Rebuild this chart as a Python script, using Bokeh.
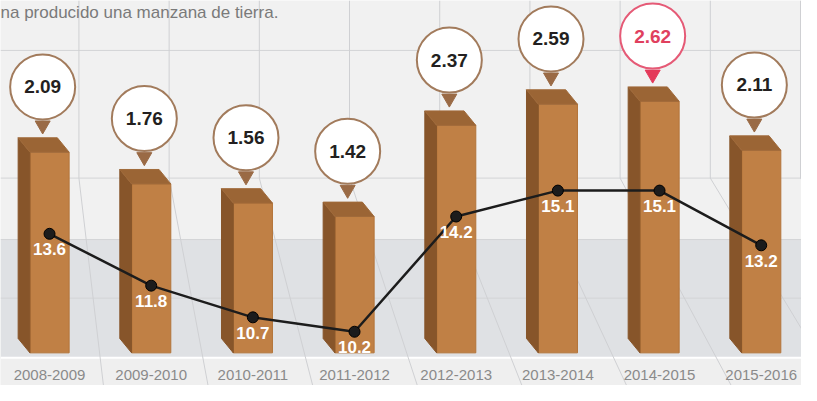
from bokeh.plotting import figure
from bokeh.models import Range1d, BoxAnnotation
from bokeh.core.properties import value
from bokeh.embed import file_html
from bokeh.resources import INLINE

# ---------------- data ----------------
categories = ["2008-2009", "2009-2010", "2010-2011", "2011-2012",
              "2012-2013", "2013-2014", "2014-2015", "2015-2016"]
bar_values = [2.09, 1.76, 1.56, 1.42, 2.37, 2.59, 2.62, 2.11]
line_values = [13.6, 11.8, 10.7, 10.2, 14.2, 15.1, 15.1, 13.2]
subtitle = "na producido una manzana de tierra."

# ---------------- geometry / style ----------------
W, H = 801, 385
SX, SY = W / 817.0, H / 401.0   # reference -> frame pixel scale
X_UNIT = 103.7 * SX             # px per category
X0 = 50.0 * SX                  # frame px of first category centre
Y_UNIT = 100.0 * SY             # px per bar unit
Y0 = 367.0 * SY                 # frame px of bar zero
L_UNIT = 30.0 * SY              # px per line unit
L_REF, L_REF_PX = 13.6, 243.0 * SY

x_start = -X0 / X_UNIT
x_end = x_start + W / X_UNIT
y_end = Y0 / Y_UNIT
y_start = y_end - H / Y_UNIT
l_end = L_REF + L_REF_PX / L_UNIT
l_start = l_end - H / L_UNIT


def fx(ref_px):
    return x_start + ref_px * SX / X_UNIT


def fy(ref_py):
    return y_end - ref_py * SY / Y_UNIT


def dx(ref_px):
    return ref_px * SX / X_UNIT


def dy(ref_px):
    return ref_px * SY / Y_UNIT


p = figure(width=W, height=H, x_range=Range1d(x_start, x_end),
           y_range=Range1d(y_start, y_end), output_backend="svg",
           toolbar_location=None, min_border=0,
           x_axis_location=None, y_axis_location=None,
           background_fill_color="#f1f1f1", border_fill_color="#f1f1f1")
p.grid.visible = False
p.outline_line_color = None
p.extra_y_ranges = {"line": Range1d(l_start, l_end)}

# ---------------- background ----------------
p.add_layout(BoxAnnotation(top=fy(249), bottom=fy(372), fill_color="#dfe1e4",
                           fill_alpha=1, line_color=None, level="underlay"))
p.add_layout(BoxAnnotation(top=fy(372), bottom=y_start, fill_color="#efefef",
                           fill_alpha=1, line_color=None, level="underlay"))

hx0, hx1, hy0, hy1 = [], [], [], []
for py in (52, 185, 249, 310):
    hx0.append(x_start); hx1.append(x_end); hy0.append(fy(py)); hy1.append(fy(py))
p.segment(hx0, hy0, hx1, hy1, line_color="#d3d4d6", line_width=1)
p.segment([x_start], [fy(372)], [x_end], [fy(372)], line_color="#ffffff", line_width=2)

vx0, vy0, vx1, vy1 = [], [], [], []
for k in range(9):
    xt = 80 + 92 * k
    xb = xt + 25 + (xt - 80) * 0.16
    vx0 += [fx(xt), fx(xt)]
    vy0 += [fy(0), fy(185)]
    vx1 += [fx(xt), fx(xb)]
    vy1 += [fy(185), fy(401)]
p.segment(vx0, vy0, vx1, vy1, line_color="#cfd0d3", line_width=1)

p.text([fx(0)], [fy(12)], text=[subtitle], text_font=value("Liberation Sans"),
       text_font_size="17px", text_color="#7a7a7a", text_baseline="middle",
       text_align="left")

# ---------------- 3D bars ----------------
n = len(categories)
xs = list(range(n))
half = dx(20)
depth_x = dx(12)
depth_y = dy(15)

front_l = [i - half for i in xs]
front_r = [i + half for i in xs]
p.quad(left=front_l, right=front_r, bottom=[0] * n, top=bar_values,
       fill_color="#c08045", line_color="#b37439", line_width=1)

side_xs, side_ys, top_xs, top_ys = [], [], [], []
for i, v in zip(xs, bar_values):
    xl, xr = i - half, i + half
    side_xs.append([xl, xl, xl - depth_x, xl - depth_x])
    side_ys.append([0, v, v + depth_y, depth_y])
    top_xs.append([xl, xr, xr - depth_x, xl - depth_x])
    top_ys.append([v, v, v + depth_y, v + depth_y])
p.patches(side_xs, side_ys, fill_color="#87552a", line_color="#87552a")
p.patches(top_xs, top_ys, fill_color="#9b6535", line_color="#a06a3a")

# ---------------- line ----------------
p.line(xs, line_values, y_range_name="line", line_color="#1c1c1c", line_width=2.5)
p.scatter(xs, line_values, y_range_name="line", marker="circle", size=11,
          fill_color="#1c1c1c", line_color="#000000")
p.text(xs, [v - 16 * SY / L_UNIT for v in line_values], y_range_name="line",
       text=[f"{v:.1f}" for v in line_values], text_font=value("Liberation Sans"),
       text_font_style="bold", text_font_size="17px", text_color="#ffffff",
       text_align="center", text_baseline="middle")

# ---------------- bubbles ----------------
hi = bar_values.index(max(bar_values))
outline = ["#e55a76" if i == hi else "#a27b5c" for i in xs]
tri_col = ["#e43a5a" if i == hi else "#9a6a45" for i in xs]
txt_col = ["#e0405e" if i == hi else "#231f20" for i in xs]
bx = [i - dx(7) for i in xs]

p.scatter(bx, [v + dy(28) for v in bar_values], marker="inverted_triangle",
          size=15, fill_color=tri_col, line_color=tri_col)
p.scatter(bx, [v + dy(68) for v in bar_values], marker="circle", size=65,
          fill_color="#ffffff", line_color=outline, line_width=2)
p.text(bx, [v + dy(68) for v in bar_values],
       text=[f"{v:.2f}" for v in bar_values], text_font=value("Liberation Sans"),
       text_font_style="bold", text_font_size="19px", text_color=txt_col,
       text_align="center", text_baseline="middle")

# ---------------- category labels ----------------
p.text(xs, [fy(390)] * n, text=categories, text_font=value("Liberation Sans"),
       text_font_size="15px", text_color="#8a8a8a", text_align="center",
       text_baseline="middle")

open("out.html", "w").write(file_html(p, INLINE))
